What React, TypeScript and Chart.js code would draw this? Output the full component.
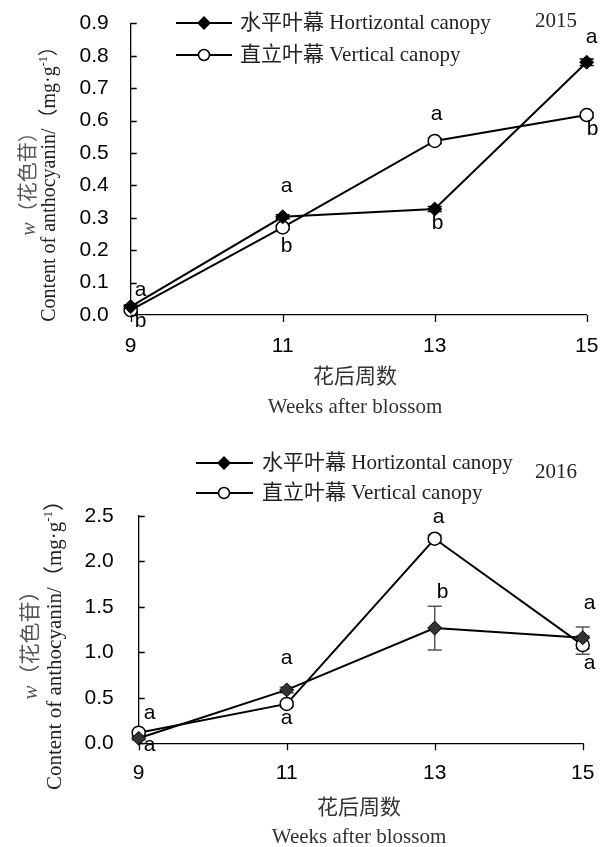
import React, { useEffect, useRef } from 'react';
import { Chart, registerables } from 'chart.js';

Chart.register(...registerables);

// ---------- data ----------
const weeks = [9, 11, 13, 15];
const xTickValues = [9, 11, 13, 15];

const yTicks2015 = [0, 0.1, 0.2, 0.3, 0.4, 0.5, 0.6, 0.7, 0.8, 0.9];
const horizontal2015 = [0.026, 0.303, 0.327, 0.78];
const vertical2015 = [0.015, 0.27, 0.537, 0.617];
const horizontalErr2015 = [0.005, 0.006, 0.008, 0.01];
const verticalErr2015 = [0.004, 0.006, 0.008, 0.008];
const horizontalLetters2015 = ['a', 'a', 'b', 'a'];
const verticalLetters2015 = ['b', 'b', 'a', 'b'];

const yTicks2016 = [0, 0.5, 1.0, 1.5, 2.0, 2.5];
const horizontal2016 = [0.055, 0.587, 1.267, 1.16];
const vertical2016 = [0.117, 0.433, 2.25, 1.08];
const horizontalErr2016 = [0.02, 0.03, 0.24, 0.12];
const verticalErr2016 = [0.02, 0.03, 0.04, 0.1];
const horizontalLetters2016 = ['a', 'a', 'b', 'a'];
const verticalLetters2016 = ['a', 'a', 'a', 'a'];

// ---------- text ----------
const horizontalLabel = '水平叶幕 Hortizontal canopy';
const verticalLabel = '直立叶幕 Vertical canopy';
const yTitleItalic = 'w';
const yTitleRest = '（花色苷）';
const yTitle2Main = 'Content of anthocyanin/（mg·g';
const yTitle2Sup = '-1';
const yTitle2End = '）';
const xTitleCn = '花后周数';
const xTitleEn = 'Weeks after blossom';

const SERIF = "'Liberation Serif', 'Times New Roman', 'Noto Sans CJK SC', serif";
const SANS = "'Liberation Sans', Arial, sans-serif";

interface PanelCfg {
  year: string;
  height: number;
  yMax: number;
  yTicks: number[];
  horizontal: number[];
  vertical: number[];
  hErr: number[];
  vErr: number[];
  hLetters: string[];
  vLetters: string[];
  areaLeft: number;
  areaRight: number;
  areaTop: number;
  areaBottom: number;
  yLabelPad: number;
  xLabelPad: number;
  legendRows: [number, number];
  legendLine: [number, number];
  legendMarkerX: number;
  legendTextX: number;
  yearRight: number;
  yearY: number;
  yTitle1X: number;
  yTitle2X: number;
  yTitleY: number;
  yTitleSize: number;
  xTitleX: number;
  xTitle1Y: number;
  xTitle2Y: number;
  hOffsets: [number, number][];
  vOffsets: [number, number][];
  errColor: string;
  diamondFill: string;
}

const panel2015: PanelCfg = {
  year: '2015',
  height: 423,
  yMax: 0.9,
  yTicks: yTicks2015,
  horizontal: horizontal2015,
  vertical: vertical2015,
  hErr: horizontalErr2015,
  vErr: verticalErr2015,
  hLetters: horizontalLetters2015,
  vLetters: verticalLetters2015,
  areaLeft: 130.7,
  areaRight: 586.7,
  areaTop: 23.3,
  areaBottom: 315,
  yLabelPad: 22,
  xLabelPad: 19,
  legendRows: [23, 55],
  legendLine: [176, 232],
  legendMarkerX: 204,
  legendTextX: 240,
  yearRight: 577,
  yearY: 21,
  yTitle1X: 30,
  yTitle2X: 50,
  yTitleY: 179,
  yTitleSize: 20,
  xTitleX: 355,
  xTitle1Y: 377,
  xTitle2Y: 407,
  hOffsets: [[10, -15], [4, -30], [3, 15], [5, -24]],
  vOffsets: [[10, 12], [4, 20], [2, -26], [6, 15]],
  errColor: '#000',
  diamondFill: '#000',
};

const panel2016: PanelCfg = {
  year: '2016',
  height: 424,
  yMax: 2.5,
  yTicks: yTicks2016,
  horizontal: horizontal2016,
  vertical: vertical2016,
  hErr: horizontalErr2016,
  vErr: verticalErr2016,
  hLetters: horizontalLetters2016,
  vLetters: verticalLetters2016,
  areaLeft: 138.7,
  areaRight: 582.7,
  areaTop: 93,
  areaBottom: 320.3,
  yLabelPad: 25,
  xLabelPad: 17,
  legendRows: [40, 70],
  legendLine: [196, 253],
  legendMarkerX: 224,
  legendTextX: 262,
  yearRight: 577,
  yearY: 49,
  yTitle1X: 31,
  yTitle2X: 55,
  yTitleY: 217,
  yTitleSize: 21,
  xTitleX: 359,
  xTitle1Y: 385,
  xTitle2Y: 414,
  hOffsets: [[11, 8], [0, -31], [8, -35], [7, -34]],
  vOffsets: [[11, -18], [0, 15], [4, -21], [7, 19]],
  errColor: '#555',
  diamondFill: '#333',
};

type Run = { text: string; font: string; dy?: number };

function drawRuns(ctx: CanvasRenderingContext2D, runs: Run[], cx: number, cy: number) {
  let total = 0;
  for (const r of runs) {
    ctx.font = r.font;
    total += ctx.measureText(r.text).width;
  }
  let x = cx - total / 2;
  ctx.textAlign = 'left';
  ctx.textBaseline = 'middle';
  for (const r of runs) {
    ctx.font = r.font;
    ctx.fillText(r.text, x, cy + (r.dy || 0));
    x += ctx.measureText(r.text).width;
  }
}

function makePlugin(cfg: PanelCfg) {
  return {
    id: 'panelDecor',
    beforeDatasetsDraw(chart: any) {
      const ctx: CanvasRenderingContext2D = chart.ctx;
      const xs = chart.scales.x;
      const ys = chart.scales.y;
      const series = [
        { v: cfg.horizontal, e: cfg.hErr },
        { v: cfg.vertical, e: cfg.vErr },
      ];
      ctx.save();
      ctx.strokeStyle = cfg.errColor;
      ctx.lineWidth = 1.5;
      for (const s of series) {
        weeks.forEach((w, i) => {
          const px = xs.getPixelForValue(w);
          const top = ys.getPixelForValue(s.v[i] + s.e[i]);
          const bot = ys.getPixelForValue(s.v[i] - s.e[i]);
          ctx.beginPath();
          ctx.moveTo(px, top);
          ctx.lineTo(px, bot);
          ctx.moveTo(px - 7, top);
          ctx.lineTo(px + 7, top);
          ctx.moveTo(px - 7, bot);
          ctx.lineTo(px + 7, bot);
          ctx.stroke();
        });
      }
      ctx.restore();
    },
    afterDraw(chart: any) {
      const ctx: CanvasRenderingContext2D = chart.ctx;
      const xs = chart.scales.x;
      const ys = chart.scales.y;
      const area = chart.chartArea;
      ctx.save();
      // inward y ticks
      ctx.strokeStyle = '#000';
      ctx.lineWidth = 1.3;
      ctx.beginPath();
      for (const t of cfg.yTicks) {
        const py = Math.round(ys.getPixelForValue(t)) + 0.5;
        ctx.moveTo(area.left, py);
        ctx.lineTo(area.left + 6, py);
      }
      // downward x ticks
      for (const t of xTickValues) {
        const px = Math.round(xs.getPixelForValue(t)) + 0.5;
        ctx.moveTo(px, area.bottom);
        ctx.lineTo(px, area.bottom + 7);
      }
      ctx.stroke();

      // significance letters
      ctx.fillStyle = '#000';
      ctx.font = `21px ${SANS}`;
      ctx.textAlign = 'center';
      ctx.textBaseline = 'middle';
      weeks.forEach((w, i) => {
        const px = xs.getPixelForValue(w);
        const hy = ys.getPixelForValue(cfg.horizontal[i]);
        const vy = ys.getPixelForValue(cfg.vertical[i]);
        const [hdx, hdy] = cfg.hOffsets[i];
        const [vdx, vdy] = cfg.vOffsets[i];
        ctx.fillText(cfg.hLetters[i], px + hdx, hy + hdy - 1);
        ctx.fillText(cfg.vLetters[i], px + vdx, vy + vdy - 1);
      });

      // legend
      const [r1, r2] = cfg.legendRows;
      ctx.strokeStyle = '#000';
      ctx.lineWidth = 2;
      ctx.beginPath();
      ctx.moveTo(cfg.legendLine[0], r1);
      ctx.lineTo(cfg.legendLine[1], r1);
      ctx.moveTo(cfg.legendLine[0], r2);
      ctx.lineTo(cfg.legendLine[1], r2);
      ctx.stroke();
      const mx = cfg.legendMarkerX;
      ctx.fillStyle = '#000';
      ctx.beginPath();
      ctx.moveTo(mx - 7, r1);
      ctx.lineTo(mx, r1 - 7);
      ctx.lineTo(mx + 7, r1);
      ctx.lineTo(mx, r1 + 7);
      ctx.closePath();
      ctx.fill();
      ctx.beginPath();
      ctx.arc(mx, r2, 5.5, 0, Math.PI * 2);
      ctx.fillStyle = '#fff';
      ctx.fill();
      ctx.lineWidth = 1.5;
      ctx.stroke();
      ctx.fillStyle = '#222';
      ctx.font = `21px ${SERIF}`;
      ctx.textAlign = 'left';
      ctx.textBaseline = 'middle';
      ctx.fillText(horizontalLabel, cfg.legendTextX, r1);
      ctx.fillText(verticalLabel, cfg.legendTextX, r2);

      // year
      ctx.textAlign = 'right';
      ctx.fillText(cfg.year, cfg.yearRight, cfg.yearY);

      // x titles
      ctx.fillStyle = '#333';
      ctx.textAlign = 'center';
      ctx.fillText(xTitleCn, cfg.xTitleX, cfg.xTitle1Y);
      ctx.fillText(xTitleEn, cfg.xTitleX, cfg.xTitle2Y);

      // y titles (rotated)
      const fs = cfg.yTitleSize;
      ctx.save();
      ctx.translate(cfg.yTitle1X, cfg.yTitleY);
      ctx.rotate(-Math.PI / 2);
      ctx.fillStyle = '#555';
      drawRuns(ctx, [
        { text: yTitleItalic, font: `italic ${fs}px ${SERIF}` },
        { text: yTitleRest, font: `${fs}px ${SERIF}` },
      ], 0, 0);
      ctx.restore();
      ctx.save();
      ctx.translate(cfg.yTitle2X, cfg.yTitleY);
      ctx.rotate(-Math.PI / 2);
      ctx.fillStyle = '#222';
      drawRuns(ctx, [
        { text: yTitle2Main, font: `${fs}px ${SERIF}` },
        { text: yTitle2Sup, font: `${Math.round(fs * 0.6)}px ${SERIF}`, dy: -6 },
        { text: yTitle2End, font: `${fs}px ${SERIF}` },
      ], 0, 0);
      ctx.restore();

      ctx.restore();
    },
  };
}

function Panel({ cfg }: { cfg: PanelCfg }) {
  const ref = useRef<HTMLCanvasElement>(null);
  useEffect(() => {
    if (!ref.current) return;
    const bottomPad = 60;
    const xAxisH = cfg.height - cfg.areaBottom - bottomPad;
    const chart = new Chart(ref.current, {
      type: 'line',
      data: {
        datasets: [
          {
            label: horizontalLabel,
            data: weeks.map((w, i) => ({ x: w, y: cfg.horizontal[i] })),
            borderColor: '#000',
            borderWidth: 2,
            pointStyle: 'rectRot',
            pointRadius: 7,
            pointBackgroundColor: cfg.diamondFill,
            pointBorderColor: '#000',
            pointBorderWidth: 1,
            tension: 0,
            clip: false,
          } as any,
          {
            label: verticalLabel,
            data: weeks.map((w, i) => ({ x: w, y: cfg.vertical[i] })),
            borderColor: '#000',
            borderWidth: 2,
            pointStyle: 'circle',
            pointRadius: 6.5,
            pointBackgroundColor: '#fff',
            pointBorderColor: '#000',
            pointBorderWidth: 1.5,
            tension: 0,
            clip: false,
          } as any,
        ],
      },
      options: {
        responsive: false,
        animation: false,
        devicePixelRatio: 1,
        layout: {
          padding: {
            left: 0,
            top: cfg.areaTop,
            right: 600 - cfg.areaRight,
            bottom: bottomPad,
          },
        },
        plugins: {
          legend: { display: false },
          tooltip: { enabled: false },
        },
        scales: {
          x: {
            type: 'linear',
            min: 9,
            max: 15,
            afterBuildTicks: (s: any) => {
              s.ticks = xTickValues.map((v) => ({ value: v }));
            },
            afterFit: (s: any) => {
              s.height = xAxisH;
              s.paddingLeft = 0;
              s.paddingRight = 0;
            },
            grid: { display: false, drawTicks: false },
            border: { display: true, color: '#000', width: 1.3 },
            ticks: {
              padding: cfg.xLabelPad,
              color: '#000',
              font: { family: SANS, size: 21 },
              maxRotation: 0,
              autoSkip: false,
              callback: (v: any) => String(v),
            },
          },
          y: {
            type: 'linear',
            min: 0,
            max: cfg.yMax,
            afterBuildTicks: (s: any) => {
              s.ticks = cfg.yTicks.map((v) => ({ value: v }));
            },
            afterFit: (s: any) => {
              s.width = cfg.areaLeft;
              s.paddingTop = 0;
              s.paddingBottom = 0;
            },
            grid: { display: false, drawTicks: false },
            border: { display: true, color: '#000', width: 1.3 },
            ticks: {
              padding: cfg.yLabelPad,
              color: '#000',
              font: { family: SANS, size: 21 },
              autoSkip: false,
              callback: (v: any) => Number(v).toFixed(1),
            },
          },
        },
      } as any,
      plugins: [makePlugin(cfg)],
    });
    return () => chart.destroy();
  }, [cfg]);
  return (
    <canvas
      ref={ref}
      width={600}
      height={cfg.height}
      style={{ display: 'block', width: 600, height: cfg.height }}
    />
  );
}

export default function App() {
  return (
    <div style={{ position: 'absolute', left: 0, top: 0, width: 600, height: 847, background: '#fff' }}>
      <Panel cfg={panel2015} />
      <Panel cfg={panel2016} />
    </div>
  );
}
